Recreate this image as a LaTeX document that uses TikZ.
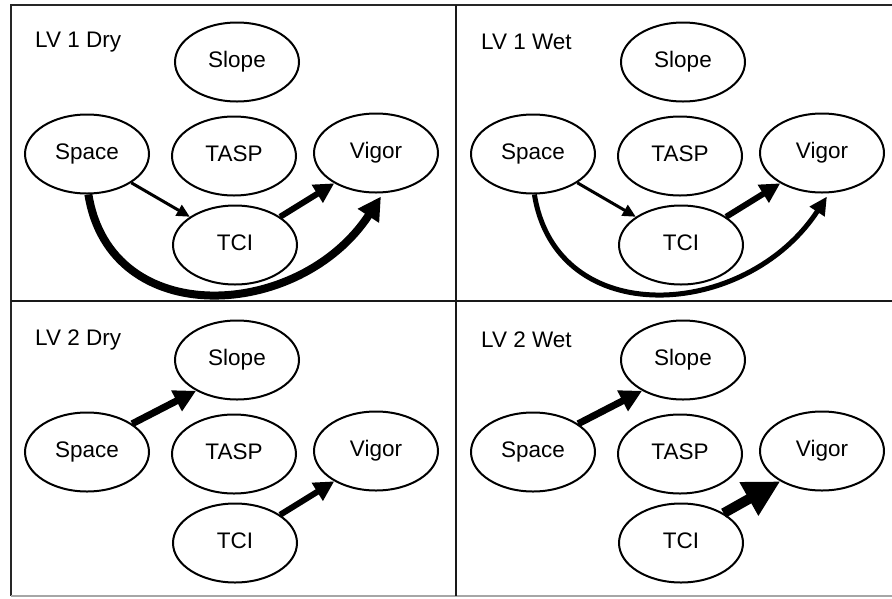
\documentclass[tikz,border=0pt]{standalone}
\usepackage{fontspec}
\setmainfont{Liberation Sans}
\usetikzlibrary{shapes.geometric,arrows.meta}
\begin{document}
\begin{tikzpicture}[x=1pt,y=-1pt,
  var/.style={ellipse,draw,line width=2pt,minimum width=124pt,minimum height=79pt,inner sep=0pt,
    text height=16pt,text depth=5pt,font=\fontsize{22.5}{24}\selectfont},
  lbl/.style={anchor=west,inner sep=0pt,font=\fontsize{22.5}{24}\selectfont},
  frameline/.style={line width=2pt,draw=black!85},
  divline/.style={line width=2.5pt,draw=black!90},
  arrA/.style={line width=3pt,-{Triangle[length=13pt,width=12pt]}},
  arrB/.style={line width=5pt,-{Triangle[length=18pt,width=17pt]}},
  arrC/.style={line width=6pt,-{Triangle[length=20pt,width=20pt]}},
  arrD/.style={line width=7pt,-{Triangle[length=22pt,width=22pt]}},
  arrE/.style={line width=8pt,-{Triangle[length=23pt,width=24pt]}},
  arrF/.style={line width=10pt,-{Triangle[length=36pt,width=36pt]}}
]
\useasboundingbox (0,0) rectangle (892,598);
% frame
\coordinate (tl) at (11,5);
\coordinate (tr) at (892,5);
\coordinate (bl) at (11,596);
\coordinate (br) at (892,596);
\coordinate (vt) at (456,5);
\coordinate (vb) at (456,596);
\coordinate (hl) at (11,301);
\coordinate (hr) at (892,301);
\draw[frameline] (bl) -- (tl) -- (tr);
\draw[line width=1.5pt,draw=black!35] (bl) -- (br);
\draw[divline] (vt) -- (vb);
\draw[divline] (hl) -- (hr);

% Panel 1: LV 1 Dry
\begin{scope}
\node[lbl] (l1) at (35,42) {LV 1 Dry};
\node[var] (slope1) at (237,62) {Slope};
\node[var] (space1) at (87,154) {Space};
\node[var] (tasp1) at (234,156) {TASP};
\node[var] (vigor1) at (376,153) {Vigor};
\node[var] (tci1) at (235,245) {TCI};
\draw[arrA] (space1.-33) -- (tci1.148);
\draw[arrC] (tci1.32) -- (vigor1.-144);
\draw[arrE,shorten >=4pt] (space1.-88) .. controls +(22,137) and +(-83,127) .. (vigor1.-80);
\end{scope}

% Panel 2: LV 1 Wet
\begin{scope}[shift={(446,0)}]
\node[lbl] (l2) at (35,42) {LV 1 Wet};
\node[var] (slope2) at (237,62) {Slope};
\node[var] (space2) at (87,154) {Space};
\node[var] (tasp2) at (234,156) {TASP};
\node[var] (vigor2) at (376,153) {Vigor};
\node[var] (tci2) at (235,245) {TCI};
\draw[arrA] (space2.-33) -- (tci2.148);
\draw[arrC] (tci2.32) -- (vigor2.-144);
\draw[arrB,shorten >=4pt] (space2.-88) .. controls +(22,137) and +(-83,127) .. (vigor2.-80);
\end{scope}

% Panel 3: LV 2 Dry
\begin{scope}[shift={(0,298)}]
\node[lbl] (l3) at (35,42) {LV 2 Dry};
\node[var] (slope3) at (237,62) {Slope};
\node[var] (space3) at (87,154) {Space};
\node[var] (tasp3) at (234,156) {TASP};
\node[var] (vigor3) at (376,153) {Vigor};
\node[var] (tci3) at (235,245) {TCI};
\draw[arrD] (space3.32) -- (slope3.-143);
\draw[arrC] (tci3.32) -- (vigor3.-144);
\end{scope}

% Panel 4: LV 2 Wet
\begin{scope}[shift={(446,298)}]
\node[lbl] (l4) at (35,42) {LV 2 Wet};
\node[var] (slope4) at (237,62) {Slope};
\node[var] (space4) at (87,154) {Space};
\node[var] (tasp4) at (234,156) {TASP};
\node[var] (vigor4) at (376,153) {Vigor};
\node[var] (tci4) at (235,245) {TCI};
\draw[arrD] (space4.32) -- (slope4.-143);
\draw[arrF] (tci4.35) -- (vigor4.-144);
\end{scope}
\end{tikzpicture}
\end{document}
